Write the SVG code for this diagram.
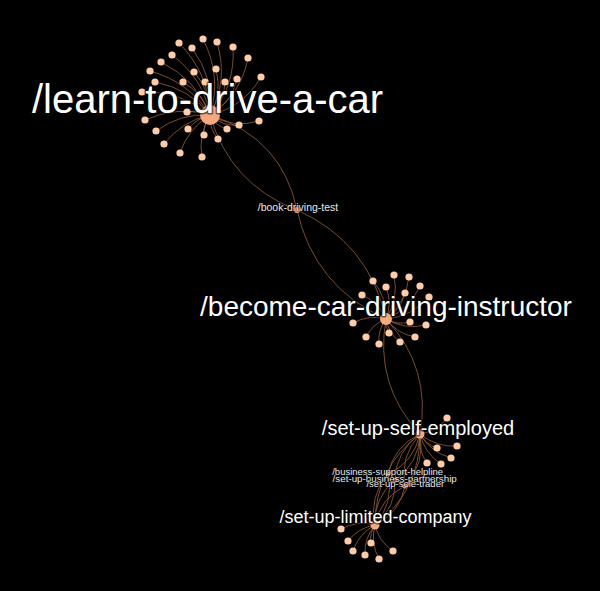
<svg xmlns="http://www.w3.org/2000/svg" width="600" height="591" viewBox="0 0 600 591">
<style>
.e{fill:none;stroke:#94603f;stroke-width:0.8}
.l{fill:#ffcca8}
.h{fill:#f5a97d}
.t{font-family:"Liberation Sans",Arial,sans-serif;fill:#fff;text-anchor:middle;stroke:#000;stroke-opacity:0.55;stroke-width:3;paint-order:stroke;stroke-linejoin:round}
.s{font-family:"Liberation Sans",Arial,sans-serif;fill:#e8e8e8;text-anchor:middle;stroke:#000;stroke-opacity:0.5;stroke-width:1.5;paint-order:stroke}
</style>
<rect width="600" height="591" fill="#000"/>
<g id="connectors">
<path class="e" d="M210,115 Q229.75,184.25 297,210"/>
<path class="e" d="M210,115 Q282,138 297,210"/>
<path class="e" d="M297,210 Q314.25,286.75 386,319"/>
<path class="e" d="M297,210 Q368.75,242.25 386,319"/>
<path class="e" d="M386,319 Q374.25,385 420,434"/>
<path class="e" d="M386,319 Q431.75,368 420,434"/>
<path class="e" d="M420,434 Q394,446 388,474"/>
<path class="e" d="M420,434 Q414,462 388,474"/>
<path class="e" d="M420,434 Q396,450.75 395,480"/>
<path class="e" d="M420,434 Q419,463.25 395,480"/>
<path class="e" d="M420,434 Q399.5,456.25 405,486"/>
<path class="e" d="M420,434 Q425.5,463.75 405,486"/>
<path class="e" d="M388,474 Q368.75,496.25 375,525"/>
<path class="e" d="M388,474 Q394.25,502.75 375,525"/>
<path class="e" d="M395,480 Q373.75,497.5 375,525"/>
<path class="e" d="M395,480 Q396.25,507.5 375,525"/>
<path class="e" d="M405,486 Q380.25,498 375,525"/>
<path class="e" d="M405,486 Q399.75,513 375,525"/>
<path class="e" d="M420,434 Q374.75,468.25 375,525"/>
<path class="e" d="M420,434 Q420.25,490.75 375,525"/>
<path class="e" d="M210,115 Q209.3,73.8 179,43"/>
<path class="e" d="M210,115 Q222.1,76.6 203,39"/>
<path class="e" d="M210,115 Q228.5,80.9 217,42"/>
<path class="e" d="M210,115 Q214.8,78.9 192,48"/>
<path class="e" d="M210,115 Q235.5,86.6 233,47"/>
<path class="e" d="M210,115 Q203.4,78.4 172,55"/>
<path class="e" d="M210,115 Q240.8,95.1 248,58"/>
<path class="e" d="M210,115 Q196.5,79.7 161,62"/>
<path class="e" d="M210,115 Q189.2,82 150,71"/>
<path class="e" d="M210,115 Q211,91.3 194,72"/>
<path class="e" d="M210,115 Q222.6,94.2 216,69"/>
<path class="e" d="M210,115 Q243.5,107.2 261,77"/>
<path class="e" d="M210,115 Q231.1,103.4 237,79"/>
<path class="e" d="M210,115 Q203.5,94.1 183,82"/>
<path class="e" d="M210,115 Q214.5,98.5 205,82"/>
<path class="e" d="M210,115 Q224.5,102.5 225,82"/>
<path class="e" d="M210,115 Q189.5,88.5 155,82"/>
<path class="e" d="M210,115 Q181,90.9 142,92"/>
<path class="e" d="M210,115 Q176.9,105.5 145,120"/>
<path class="e" d="M210,115 Q199.5,109.9 187,112"/>
<path class="e" d="M210,115 Q233.7,128.8 259,121"/>
<path class="e" d="M210,115 Q222.9,126.8 239,125"/>
<path class="e" d="M210,115 Q216.1,126.4 227,129"/>
<path class="e" d="M210,115 Q196.6,118.6 188,129"/>
<path class="e" d="M210,115 Q180.2,113.2 156,131"/>
<path class="e" d="M210,115 Q203.4,124.8 204,135"/>
<path class="e" d="M210,115 Q209.6,129.6 218,139"/>
<path class="e" d="M210,115 Q181.6,121.3 164,144"/>
<path class="e" d="M210,115 Q187.8,129 180,153"/>
<path class="e" d="M210,115 Q198,135.4 202,157"/>
<path class="e" d="M386,319 Q398.8,298.6 394,275"/>
<path class="e" d="M386,319 Q405.9,302.6 409,277"/>
<path class="e" d="M386,319 Q387.1,297.4 373,281"/>
<path class="e" d="M386,319 Q392.4,303 386,287"/>
<path class="e" d="M386,319 Q409.6,309.3 420,286"/>
<path class="e" d="M386,319 Q400.7,309.8 405,293"/>
<path class="e" d="M386,319 Q378.8,302.2 362,295"/>
<path class="e" d="M386,319 Q411.9,316.6 429,297"/>
<path class="e" d="M386,319 Q368.7,314.4 353,323"/>
<path class="e" d="M386,319 Q397.4,325.3 410,322"/>
<path class="e" d="M386,319 Q404.8,330 426,325"/>
<path class="e" d="M386,319 Q372.4,324 366,337"/>
<path class="e" d="M386,319 Q384.7,326.6 389,333"/>
<path class="e" d="M386,319 Q396.9,333.8 415,337"/>
<path class="e" d="M386,319 Q388.4,333.3 400,342"/>
<path class="e" d="M386,319 Q377.5,330.1 379,344"/>
<path class="e" d="M420,434 Q436.7,431.4 447,418"/>
<path class="e" d="M420,434 Q436.1,447.4 457,446"/>
<path class="e" d="M420,434 Q425.7,444.4 437,448"/>
<path class="e" d="M420,434 Q430.7,452.2 451,458"/>
<path class="e" d="M420,434 Q417.7,449.9 427,463"/>
<path class="e" d="M420,434 Q424.5,453.2 441,464"/>
<path class="e" d="M375,525 Q357.2,520.2 341,529"/>
<path class="e" d="M375,525 Q358.3,527.6 348,541"/>
<path class="e" d="M375,525 Q369.4,533.2 371,543"/>
<path class="e" d="M375,525 Q358.8,533.6 353,551"/>
<path class="e" d="M375,525 Q364,538 365,555"/>
<path class="e" d="M375,525 Q370.2,542.8 379,559"/>
<path class="e" d="M375,525 Q378.8,541.6 393,551"/>
</g>
<g id="learn-to-drive-a-car-leaves">
<circle class="l" cx="179" cy="43" r="3.6"/><circle class="l" cx="203" cy="39" r="3.6"/><circle class="l" cx="217" cy="42" r="3.6"/>
<circle class="l" cx="192" cy="48" r="3.6"/><circle class="l" cx="233" cy="47" r="3.6"/><circle class="l" cx="172" cy="55" r="3.6"/>
<circle class="l" cx="248" cy="58" r="3.6"/><circle class="l" cx="161" cy="62" r="3.6"/><circle class="l" cx="150" cy="71" r="3.6"/>
<circle class="l" cx="194" cy="72" r="3.6"/><circle class="l" cx="216" cy="69" r="3.6"/><circle class="l" cx="261" cy="77" r="3.6"/>
<circle class="l" cx="237" cy="79" r="3.6"/><circle class="l" cx="183" cy="82" r="3.6"/><circle class="l" cx="205" cy="82" r="3.6"/>
<circle class="l" cx="225" cy="82" r="3.6"/><circle class="l" cx="155" cy="82" r="3.6"/><circle class="l" cx="142" cy="92" r="3.6"/>
<circle class="l" cx="145" cy="120" r="3.6"/><circle class="l" cx="187" cy="112" r="3.6"/><circle class="l" cx="259" cy="121" r="3.6"/>
<circle class="l" cx="239" cy="125" r="3.6"/><circle class="l" cx="227" cy="129" r="3.6"/><circle class="l" cx="188" cy="129" r="3.6"/>
<circle class="l" cx="156" cy="131" r="3.6"/><circle class="l" cx="204" cy="135" r="3.6"/><circle class="l" cx="218" cy="139" r="3.6"/>
<circle class="l" cx="164" cy="144" r="3.6"/><circle class="l" cx="180" cy="153" r="3.6"/><circle class="l" cx="202" cy="157" r="3.6"/>
</g>
<g id="become-car-driving-instructor-leaves">
<circle class="l" cx="394" cy="275" r="3.6"/><circle class="l" cx="409" cy="277" r="3.6"/><circle class="l" cx="373" cy="281" r="3.6"/>
<circle class="l" cx="386" cy="287" r="3.6"/><circle class="l" cx="420" cy="286" r="3.6"/><circle class="l" cx="405" cy="293" r="3.6"/>
<circle class="l" cx="362" cy="295" r="3.6"/><circle class="l" cx="429" cy="297" r="3.6"/><circle class="l" cx="353" cy="323" r="3.6"/>
<circle class="l" cx="410" cy="322" r="3.6"/><circle class="l" cx="426" cy="325" r="3.6"/><circle class="l" cx="366" cy="337" r="3.6"/>
<circle class="l" cx="389" cy="333" r="3.6"/><circle class="l" cx="415" cy="337" r="3.6"/><circle class="l" cx="400" cy="342" r="3.6"/>
<circle class="l" cx="379" cy="344" r="3.6"/>
</g>
<g id="set-up-self-employed-leaves">
<circle class="l" cx="447" cy="418" r="3.6"/><circle class="l" cx="457" cy="446" r="3.6"/><circle class="l" cx="437" cy="448" r="3.6"/>
<circle class="l" cx="451" cy="458" r="3.6"/><circle class="l" cx="427" cy="463" r="3.6"/><circle class="l" cx="441" cy="464" r="3.6"/>
</g>
<g id="set-up-limited-company-leaves">
<circle class="l" cx="341" cy="529" r="3.6"/><circle class="l" cx="348" cy="541" r="3.6"/><circle class="l" cx="371" cy="543" r="3.6"/>
<circle class="l" cx="353" cy="551" r="3.6"/><circle class="l" cx="365" cy="555" r="3.6"/><circle class="l" cx="379" cy="559" r="3.6"/>
<circle class="l" cx="393" cy="551" r="3.6"/>
</g>
<g id="book-driving-test"><circle class="h" cx="297" cy="210" r="3"/></g>
<g id="business-support-helpline"><circle class="h" cx="388" cy="474" r="2.5"/></g>
<g id="set-up-business-partnership"><circle class="h" cx="395" cy="480" r="2.5"/></g>
<g id="set-up-sole-trader"><circle class="h" cx="405" cy="486" r="2.5"/></g>
<g id="learn-to-drive-a-car"><circle class="h" cx="210" cy="115" r="10"/></g>
<g id="become-car-driving-instructor"><circle class="h" cx="386" cy="319" r="6"/></g>
<g id="set-up-self-employed"><circle class="h" cx="420" cy="434" r="4.5"/></g>
<g id="set-up-limited-company"><circle class="h" cx="375" cy="525" r="4.5"/></g>
<g id="labels">
<text class="t" x="207.5" y="113" font-size="40">/learn-to-drive-a-car</text>
<text class="s" x="298" y="210.5" font-size="10.5">/book-driving-test</text>
<text class="t" x="386" y="316" font-size="28">/become-car-driving-instructor</text>
<text class="t" x="418" y="435" font-size="20">/set-up-self-employed</text>
<text class="t" x="375.5" y="523" font-size="18">/set-up-limited-company</text>
<text class="s" x="387.7" y="475" font-size="9.5">/business-support-helpline</text>
<text class="s" x="394.7" y="481.7" font-size="9.8">/set-up-business-partnership</text>
<text class="s" x="405.3" y="487.3" font-size="9.5">/set-up-sole-trader</text>
</g>
</svg>
